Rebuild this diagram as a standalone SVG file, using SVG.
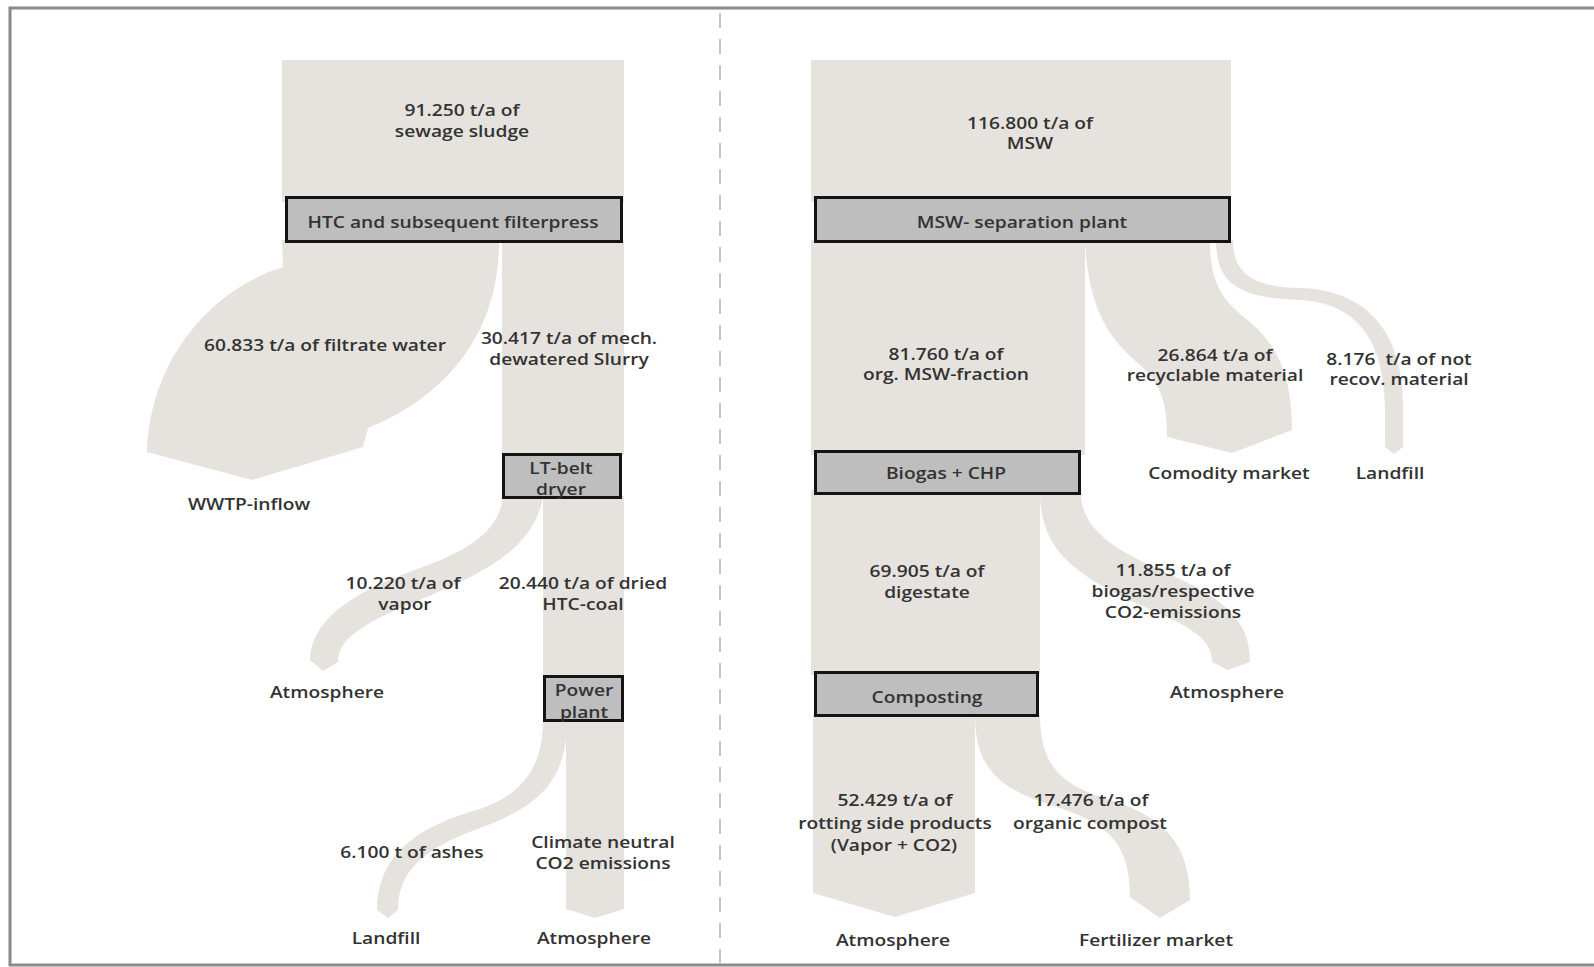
<svg xmlns="http://www.w3.org/2000/svg" width="1594" height="967" viewBox="0 0 1594 967">
  <style>
    .flow { fill: #e6e3de; stroke: none; }
    .box { fill: #bebebe; stroke: #141414; stroke-width: 3; }
    .t { font-family: "Open Sans", "Liberation Sans", sans-serif; font-size: 16px; font-weight: 600; fill: #333333; text-anchor: middle; }
    .frame { fill: none; stroke: #8a8a8a; stroke-width: 3; }
    .divider { fill: none; stroke: #c4c4c4; stroke-width: 2; stroke-dasharray: 15 11; }
  </style>

  <rect width="1594" height="967" fill="#ffffff"/>
  <rect class="frame" x="10" y="8" width="1600" height="957"/>
  <line class="divider" x1="720" y1="13" x2="720" y2="965"/>

  <!-- mass flow bands (Sankey connectors) -->
  <g id="flows">
    <!-- sewage sludge path -->
    <rect class="flow" x="282" y="60" width="342" height="142"/>
    <path class="flow" d="M 282 240 L 500 240 L 499 245 C 498 330 450 395 368 428 L 363 447 L 252 480 L 147 452 C 150 360 210 290 283 267 Z"/>
    <rect class="flow" x="502" y="240" width="122" height="215"/>
    <rect class="flow" x="543" y="496" width="81" height="182"/>
    <path class="flow" d="M 503 496 C 500 530 470 550 420 568 C 360 590 312 615 310 660 L 323 671 L 338 662 C 338 640 360 625 410 604 C 480 575 535 550 543 496 Z"/>
    <path class="flow" d="M 566 720 L 624 720 L 624 909 L 595 918 L 566 909 Z"/>
    <path class="flow" d="M 543 720 C 543 770 520 798 470 812 C 410 830 377 860 377 910 L 388 918 L 398 910 C 398 870 425 848 480 828 C 540 806 567 780 567 720 Z"/>

    <!-- municipal solid waste path -->
    <rect class="flow" x="811" y="60" width="420" height="142"/>
    <rect class="flow" x="811" y="240" width="274" height="215"/>
    <path class="flow" d="M 1085 240 C 1088 310 1110 340 1140 365 C 1160 383 1167 400 1167 437 L 1232 453 L 1292 430 C 1292 380 1280 345 1245 318 C 1220 298 1210 280 1210 240 Z"/>
    <path class="flow" d="M 1216 240 C 1216 285 1240 298 1300 300 C 1360 303 1385 345 1385 410 L 1385 447 L 1394 454 L 1403 447 L 1403 405 C 1403 330 1365 290 1300 288 C 1255 287 1233 275 1233 240 Z"/>
    <rect class="flow" x="811" y="490" width="229" height="185"/>
    <path class="flow" d="M 1040 492 C 1040 550 1075 575 1140 605 C 1195 628 1212 640 1212 662 L 1228 670 L 1250 662 C 1250 620 1225 598 1160 570 C 1105 545 1081 525 1081 492 Z"/>
    <path class="flow" d="M 813 714 L 975 714 L 975 893 L 895 917 L 813 893 Z"/>
    <path class="flow" d="M 975 714 C 975 770 1000 790 1060 808 C 1110 825 1130 845 1130 897 L 1160 918 L 1190 900 C 1190 850 1170 818 1110 800 C 1060 785 1040 765 1040 714 Z"/>
  </g>

  <!-- quantities carried by each band -->
  <g id="flow-labels">
    <text class="t" transform="translate(462 115.5) scale(1.2 1)">91.250 t/a of</text>
    <text class="t" transform="translate(462 136.5) scale(1.2 1)">sewage sludge</text>
    <text class="t" transform="translate(325 350.5) scale(1.2 1)">60.833 t/a of filtrate water</text>
    <text class="t" transform="translate(569 343.5) scale(1.2 1)">30.417 t/a of mech.</text>
    <text class="t" transform="translate(569 364.5) scale(1.2 1)">dewatered Slurry</text>
    <text class="t" transform="translate(403 588.5) scale(1.2 1)">10.220 t/a of</text>
    <text class="t" transform="translate(405 609.5) scale(1.2 1)">vapor</text>
    <text class="t" transform="translate(583 588.5) scale(1.2 1)">20.440 t/a of dried</text>
    <text class="t" transform="translate(583 609.5) scale(1.2 1)">HTC-coal</text>
    <text class="t" transform="translate(412 857.5) scale(1.2 1)">6.100 t of ashes</text>
    <text class="t" transform="translate(603 847.5) scale(1.2 1)">Climate neutral</text>
    <text class="t" transform="translate(603 868.5) scale(1.2 1)">CO2 emissions</text>

    <text class="t" transform="translate(1030 128.5) scale(1.2 1)">116.800 t/a of</text>
    <text class="t" transform="translate(1030 148.5) scale(1.2 1)">MSW</text>
    <text class="t" transform="translate(946 359.5) scale(1.2 1)">81.760 t/a of</text>
    <text class="t" transform="translate(946 379.5) scale(1.2 1)">org. MSW-fraction</text>
    <text class="t" transform="translate(1215 360.5) scale(1.2 1)">26.864 t/a of</text>
    <text class="t" transform="translate(1215 380.5) scale(1.2 1)">recyclable material</text>
    <text class="t" transform="translate(1399 364.5) scale(1.2 1)" xml:space="preserve">8.176  t/a of not</text>
    <text class="t" transform="translate(1399 384.5) scale(1.2 1)">recov. material</text>
    <text class="t" transform="translate(927 576.5) scale(1.2 1)">69.905 t/a of</text>
    <text class="t" transform="translate(927 597.5) scale(1.2 1)">digestate</text>
    <text class="t" transform="translate(1173 575.5) scale(1.2 1)">11.855 t/a of</text>
    <text class="t" transform="translate(1173 596.5) scale(1.2 1)">biogas/respective</text>
    <text class="t" transform="translate(1173 617.5) scale(1.2 1)">CO2-emissions</text>
    <text class="t" transform="translate(895 805.5) scale(1.2 1)">52.429 t/a of</text>
    <text class="t" transform="translate(895 828.5) scale(1.2 1)">rotting side products</text>
    <text class="t" transform="translate(894 850.5) scale(1.2 1)">(Vapor + CO2)</text>
    <text class="t" transform="translate(1091 805.5) scale(1.2 1)">17.476 t/a of</text>
    <text class="t" transform="translate(1090 828.5) scale(1.2 1)">organic compost</text>
  </g>

  <!-- process units -->
  <g id="htc-filterpress">
    <rect class="box" x="286.5" y="197.5" width="335" height="44"/>
    <text class="t" transform="translate(453 227.5) scale(1.2 1)">HTC and subsequent filterpress</text>
  </g>
  <g id="lt-belt-dryer">
    <rect class="box" x="503.5" y="454.5" width="117" height="43"/>
    <text class="t" transform="translate(561 473.5) scale(1.2 1)">LT-belt</text>
    <text class="t" transform="translate(561 494.5) scale(1.2 1)">dryer</text>
  </g>
  <g id="power-plant">
    <rect class="box" x="544.5" y="676.5" width="78" height="44"/>
    <text class="t" transform="translate(584 695.5) scale(1.2 1)">Power</text>
    <text class="t" transform="translate(584 717.5) scale(1.2 1)">plant</text>
  </g>
  <g id="msw-separation">
    <rect class="box" x="815.5" y="197.5" width="414" height="44"/>
    <text class="t" transform="translate(1022 227.5) scale(1.2 1)">MSW- separation plant</text>
  </g>
  <g id="biogas-chp">
    <rect class="box" x="815.5" y="451.5" width="264" height="42"/>
    <text class="t" transform="translate(946 478.5) scale(1.2 1)">Biogas + CHP</text>
  </g>
  <g id="composting">
    <rect class="box" x="815.5" y="672.5" width="222" height="43"/>
    <text class="t" transform="translate(927 702.5) scale(1.2 1)">Composting</text>
  </g>

  <!-- destinations -->
  <g id="sink-wwtp-inflow"><text class="t" transform="translate(249 509.5) scale(1.2 1)">WWTP-inflow</text></g>
  <g id="sink-atmosphere-vapor"><text class="t" transform="translate(327 697.5) scale(1.2 1)">Atmosphere</text></g>
  <g id="sink-landfill-ashes"><text class="t" transform="translate(386 943.5) scale(1.2 1)">Landfill</text></g>
  <g id="sink-atmosphere-power"><text class="t" transform="translate(594 943.5) scale(1.2 1)">Atmosphere</text></g>
  <g id="sink-commodity-market"><text class="t" transform="translate(1229 478.5) scale(1.2 1)">Comodity market</text></g>
  <g id="sink-landfill-msw"><text class="t" transform="translate(1390 478.5) scale(1.2 1)">Landfill</text></g>
  <g id="sink-atmosphere-biogas"><text class="t" transform="translate(1227 697.5) scale(1.2 1)">Atmosphere</text></g>
  <g id="sink-atmosphere-rotting"><text class="t" transform="translate(893 945.5) scale(1.2 1)">Atmosphere</text></g>
  <g id="sink-fertilizer-market"><text class="t" transform="translate(1156 945.5) scale(1.2 1)">Fertilizer market</text></g>
</svg>
